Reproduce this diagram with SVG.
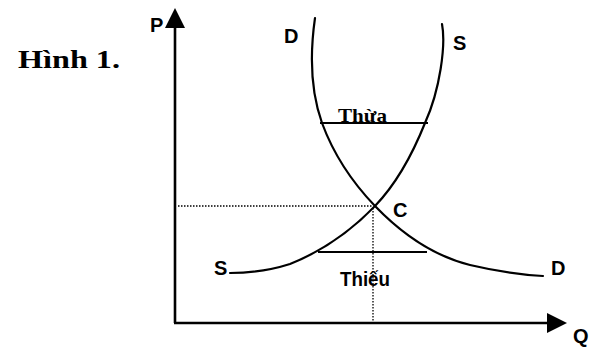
<svg xmlns="http://www.w3.org/2000/svg" width="597" height="348" viewBox="0 0 597 348">
<style>
.ax{stroke:#000;stroke-width:2.6;fill:none}
.cv{stroke:#000;stroke-width:2.2;fill:none;stroke-linecap:round}
.hl{stroke:#000;stroke-width:2;fill:none}
.dt{stroke:#000;stroke-width:1.3;fill:none;stroke-dasharray:1.5 1.5}
.lb{font-family:"Liberation Sans",Arial,sans-serif;font-weight:bold;font-size:20px;fill:#000}
.sf{font-family:"Liberation Serif","Times New Roman",serif;font-weight:bold;fill:#000}
</style>
<rect width="597" height="348" fill="#fff"/>
<g id="title"><text class="sf" x="18" y="68" font-size="26" textLength="102" lengthAdjust="spacingAndGlyphs">Hình 1.</text></g>
<g id="axes">
<line class="ax" x1="175" y1="323" x2="175" y2="24"/>
<polygon points="175,8 165,28 185,28" fill="#000"/>
<line class="ax" x1="174" y1="323" x2="550" y2="323"/>
<polygon points="567,323 547,313 547,333" fill="#000"/>
<text class="lb" x="150" y="32" font-size="16">P</text>
<text class="lb" x="573" y="343" font-size="19">Q</text>
</g>
<g id="connectors">
<path id="guide-h" class="dt" d="M178,206 H373"/>
<path id="guide-v" class="dt" d="M373,208 V322"/>
<line id="thua-line" class="hl" x1="320" y1="123" x2="428" y2="123"/>
<line id="thieu-line" class="hl" x1="318" y1="252" x2="427" y2="252"/>
</g>
<g id="demand">
<path class="cv" d="M315,18 C309,60 312,95 322,123 C332,150 350,180 375,206 C400,232 430,255 470,265 C500,272 520,275 543,276"/>
<text class="lb" x="284" y="43">D</text>
<text class="lb" x="551" y="275">D</text>
</g>
<g id="supply">
<path class="cv" d="M442,24 C446,45 440,90 425,123 C415,148 400,180 375,206 C350,232 320,252 290,264 C265,272 245,273 230,273"/>
<text class="lb" x="453" y="50">S</text>
<text class="lb" x="214" y="275">S</text>
</g>
<g id="equilibrium"><text class="lb" x="393" y="217">C</text></g>
<g id="surplus"><text class="sf" x="338" y="122" font-size="19" textLength="49" lengthAdjust="spacingAndGlyphs">Thừa</text></g>
<g id="shortage"><text class="lb" x="340" y="286" textLength="50" lengthAdjust="spacingAndGlyphs">Thiếu</text></g>
</svg>
